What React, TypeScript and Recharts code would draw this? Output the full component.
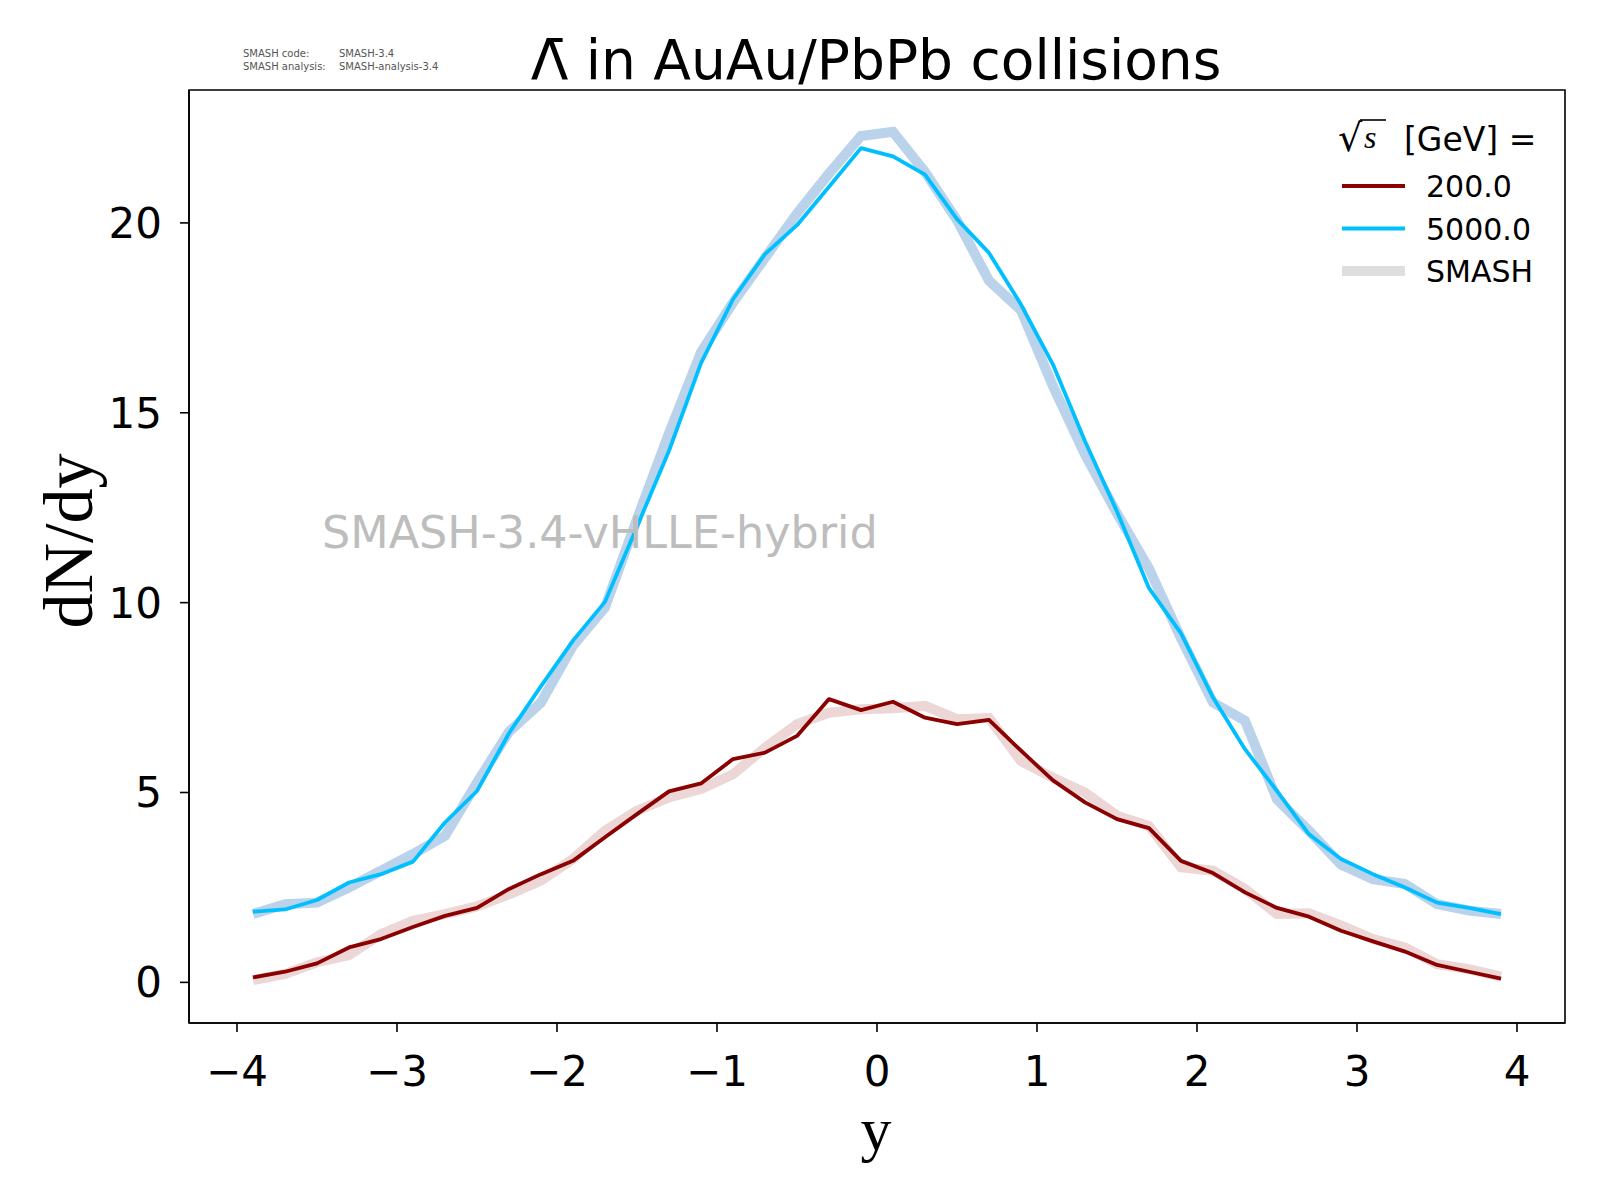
import { LineChart, Line, XAxis, YAxis, Legend, ReferenceArea } from "recharts";

// rapidity bin centres
const rapidity = [
  -3.9, -3.7, -3.5, -3.3, -3.1, -2.9, -2.7, -2.5, -2.3, -2.1,
  -1.9, -1.7, -1.5, -1.3, -1.1, -0.9, -0.7, -0.5, -0.3, -0.1,
  0.1, 0.3, 0.5, 0.7, 0.9, 1.1, 1.3, 1.5, 1.7, 1.9,
  2.1, 2.3, 2.5, 2.7, 2.9, 3.1, 3.3, 3.5, 3.7, 3.9,
];

const dndy200 = [
  0.13, 0.28, 0.5, 0.92, 1.14, 1.46, 1.75, 1.96, 2.46, 2.85,
  3.2, 3.82, 4.43, 5.03, 5.24, 5.88, 6.05, 6.49, 7.46, 7.17,
  7.39, 6.97, 6.8, 6.91, 6.1, 5.32, 4.74, 4.3, 4.06, 3.2,
  2.88, 2.37, 1.96, 1.73, 1.36, 1.08, 0.81, 0.46, 0.28, 0.1,
];

const dndy5000 = [
  1.86, 1.92, 2.17, 2.63, 2.85, 3.18, 4.21, 5.04, 6.56, 7.8,
  9.0, 10.02, 12.0, 14.0, 16.31, 17.99, 19.18, 19.94, 20.95, 21.97,
  21.75, 21.27, 20.1, 19.21, 17.85, 16.27, 14.25, 12.4, 10.38, 9.19,
  7.5, 6.14, 5.04, 3.9, 3.25, 2.85, 2.5, 2.1, 1.96, 1.8,
];

// SMASH reference curves
const smash200 = [
  0.06, 0.22, 0.53, 0.72, 1.27, 1.62, 1.8, 2.0, 2.32, 2.68,
  3.25, 3.99, 4.52, 4.87, 5.09, 5.48, 6.18, 6.8, 7.1, 7.19,
  7.22, 7.28, 6.93, 6.96, 5.83, 5.39, 5.0, 4.39, 4.12, 3.03,
  2.94, 2.46, 1.8, 1.82, 1.5, 1.14, 0.92, 0.48, 0.35, 0.15,
];

const smash5000 = [
  1.8, 2.06, 2.1, 2.5, 2.94, 3.38, 3.86, 5.26, 6.6, 7.37,
  8.87, 9.87, 12.2, 14.46, 16.59, 17.9, 19.08, 20.25, 21.3, 22.29,
  22.4, 21.34, 20.07, 18.48, 17.7, 15.7, 13.9, 12.35, 10.9, 9.06,
  7.37, 6.89, 4.82, 3.99, 3.1, 2.72, 2.59, 2.06, 1.89, 1.8,
];

const xTicks = [-4, -3, -2, -1, 0, 1, 2, 3, 4];
const yTicks = [0, 5, 10, 15, 20];

const legendItems = [
  { label: "200.0", color: "#8b0000", width: 3.8 },
  { label: "5000.0", color: "#00bfff", width: 3.8 },
  { label: "SMASH", color: "#dedede", width: 10 },
];

const data = rapidity.map((y, i) => ({
  y,
  e200: dndy200[i],
  e5000: dndy5000[i],
  s200: smash200[i],
  s5000: smash5000[i],
}));

const fmt = (v: number) => (v < 0 ? `\u2212${Math.abs(v)}` : `${v}`);

const tickStyle = { fill: "#000", fontSize: 42, fontFamily: "DejaVu Sans" };

function LegendBox() {
  return (
    <svg width={240} height={180} style={{ overflow: "visible" }}>
      <text x={10} y={41} fontFamily="DejaVu Serif" fontSize={38} fill="#000">
        √
      </text>
      <line x1={32} x2={58} y1={10} y2={10} stroke="#000" strokeWidth={1.6} />
      <text x={36} y={38} fontFamily="Liberation Serif" fontStyle="italic" fontSize={32} fill="#000">
        s
      </text>
      <text x={76} y={41} fontFamily="DejaVu Sans" fontSize={33} fill="#000">
        [GeV] =
      </text>
      {legendItems.map((it, i) => (
        <g key={it.label}>
          <line
            x1={14}
            x2={77}
            y1={76 + i * 42.5}
            y2={76 + i * 42.5}
            stroke={it.color}
            strokeWidth={it.width}
          />
          <text x={98} y={87 + i * 42.5} fontSize={30} fontFamily="DejaVu Sans" fill="#000">
            {it.label}
          </text>
        </g>
      ))}
    </svg>
  );
}

export default function App() {
  return (
    <div style={{ position: "relative", width: 1600, height: 1200, margin: -8, background: "#fff" }}>
      <LineChart
        width={1600}
        height={1200}
        data={data}
        margin={{ top: 90, right: 35, bottom: 117, left: 89 }}
      >
        <XAxis
          dataKey="y"
          type="number"
          domain={[-4.3, 4.3]}
          ticks={xTicks}
          tickFormatter={fmt}
          allowDataOverflow
          height={60}
          tick={tickStyle}
          tickSize={9}
          tickMargin={24}
          axisLine={{ stroke: "#000", strokeWidth: 1.6 }}
          tickLine={{ stroke: "#000", strokeWidth: 1.6 }}
        />
        <YAxis
          type="number"
          domain={[-1.07, 23.5]}
          ticks={yTicks}
          allowDataOverflow
          width={100}
          tick={tickStyle}
          tickSize={9}
          tickMargin={18}
          axisLine={{ stroke: "#000", strokeWidth: 1.6 }}
          tickLine={{ stroke: "#000", strokeWidth: 1.6 }}
        />
        <ReferenceArea
          x1={-4.3}
          x2={4.3}
          y1={-1.07}
          y2={23.5}
          fill="none"
          stroke="#000"
          strokeWidth={1.6}
          fillOpacity={0}
          ifOverflow="visible"
        />
        <Line
          dataKey="s200"
          type="linear"
          stroke="#ecd6d6"
          strokeWidth={10}
          dot={false}
          activeDot={false}
          isAnimationActive={false}
          legendType="none"
        />
        <Line
          dataKey="s5000"
          type="linear"
          stroke="#bad2ea"
          strokeWidth={10}
          dot={false}
          activeDot={false}
          isAnimationActive={false}
          legendType="none"
        />
        <Line
          dataKey="e200"
          type="linear"
          stroke="#8b0000"
          strokeWidth={3.8}
          strokeLinejoin="round"
          dot={false}
          activeDot={false}
          isAnimationActive={false}
        />
        <Line
          dataKey="e5000"
          type="linear"
          stroke="#00bfff"
          strokeWidth={3.8}
          strokeLinejoin="round"
          dot={false}
          activeDot={false}
          isAnimationActive={false}
        />
        <Legend
          layout="horizontal"
          verticalAlign="middle"
          align="center"
          wrapperStyle={{ top: 110, left: 1328, width: 240, height: 180 }}
          content={() => <LegendBox />}
        />
      </LineChart>
      <svg
        width={1600}
        height={1200}
        style={{ position: "absolute", left: 0, top: 0, pointerEvents: "none" }}
      >
        <text x={876} y={79} textAnchor="middle" fontSize={55} fontFamily="DejaVu Sans" fill="#000">
          Λ̄ in AuAu/PbPb collisions
        </text>
        <text fontSize={10} fontFamily="DejaVu Sans" fill="#555">
          <tspan x={243} y={57}>SMASH code:</tspan>
          <tspan x={339} y={57}>SMASH-3.4</tspan>
          <tspan x={243} y={70}>SMASH analysis:</tspan>
          <tspan x={339} y={70}>SMASH-analysis-3.4</tspan>
        </text>
        <text x={322} y={548} fontSize={44.5} fontFamily="DejaVu Sans" fill="#bdbdbd">
          SMASH-3.4-vHLLE-hybrid
        </text>
        <text
          x={92}
          y={541}
          textAnchor="middle"
          fontSize={70}
          fontFamily="Liberation Serif"
          fill="#000"
          transform="rotate(-90 92 541)"
        >
          dN/dy
        </text>
        <text x={876} y={1150} textAnchor="middle" fontSize={62} fontFamily="Liberation Serif" fill="#000">
          y
        </text>
      </svg>
    </div>
  );
}
